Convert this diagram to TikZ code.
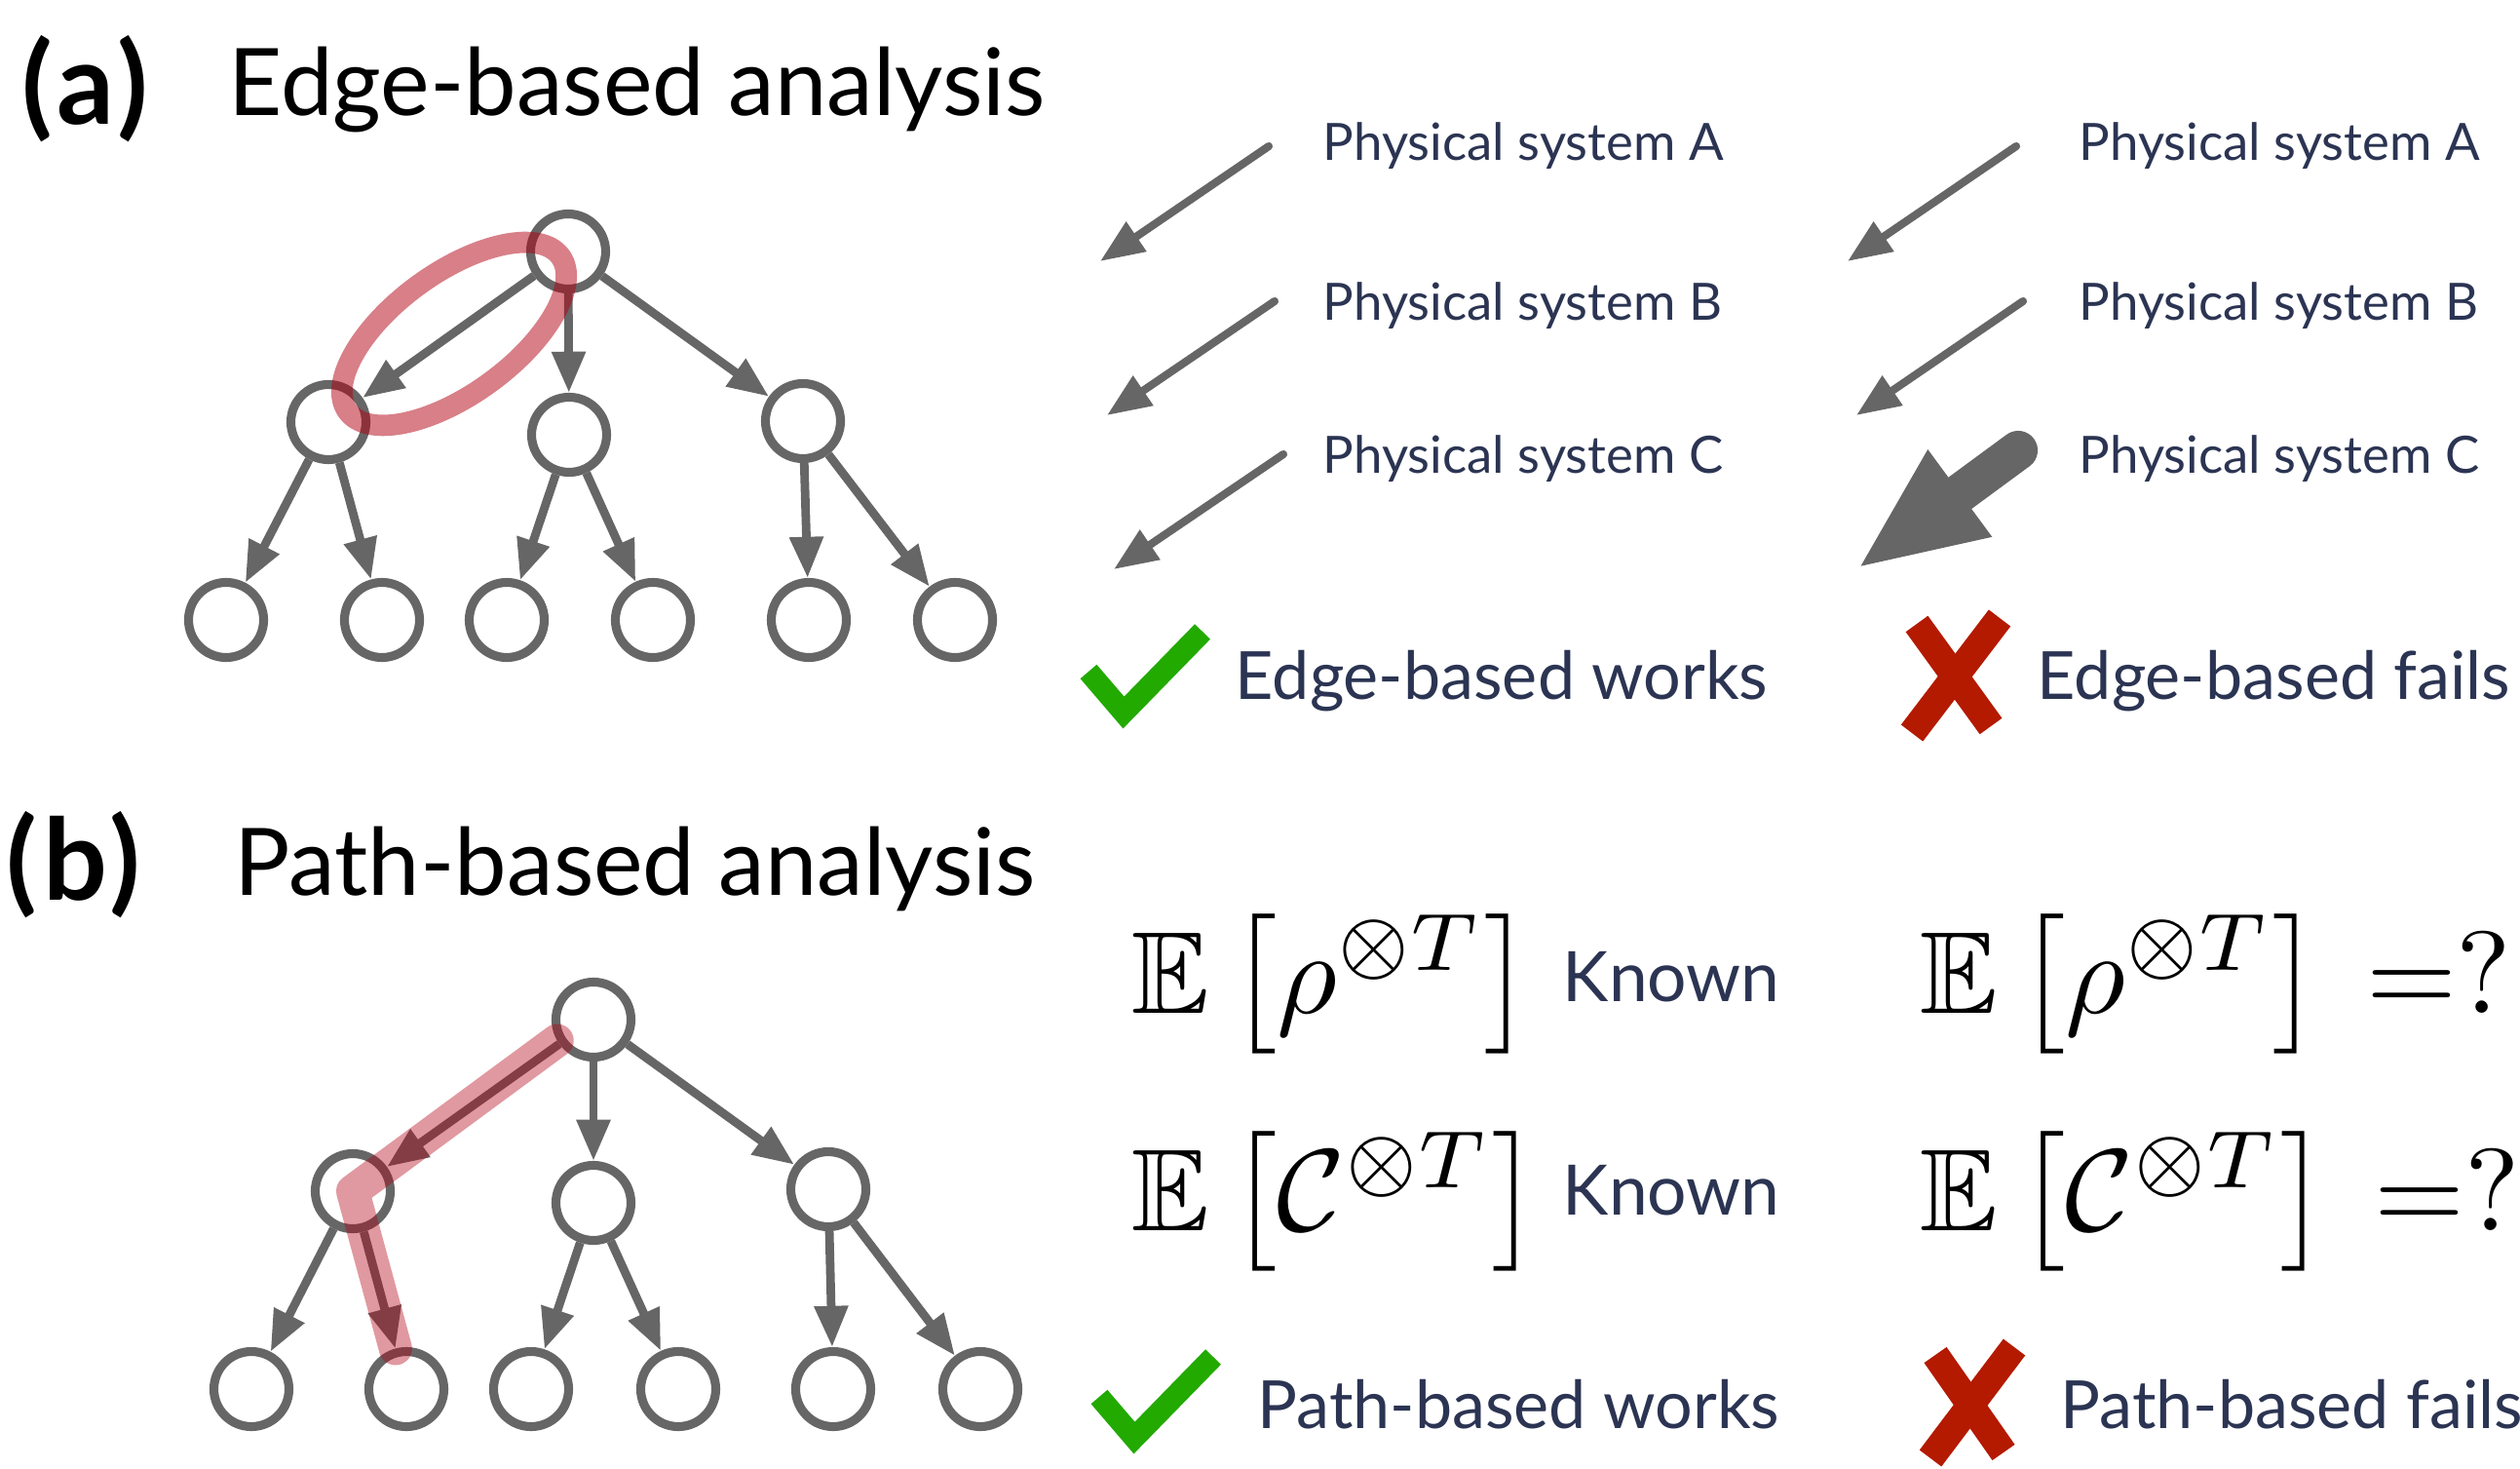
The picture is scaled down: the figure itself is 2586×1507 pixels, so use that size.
\documentclass[tikz,border=0pt]{standalone}
\usepackage{amsmath,amssymb}
\usepackage{fontspec}
\setmainfont{Lato}
\usetikzlibrary{arrows.meta,calc}
\definecolor{treegray}{RGB}{102,102,102}
\definecolor{labelnavy}{RGB}{43,52,82}
\definecolor{hlred}{RGB}{177,0,17}
\definecolor{okgreen}{RGB}{34,170,0}
\definecolor{badred}{RGB}{180,26,0}

\begin{document}
\begin{tikzpicture}[x=0.01cm, y=-0.01cm,
    vert/.style={circle, draw=treegray, line width=2.6pt, minimum size=21.9pt, inner sep=0pt},
    treearr/.style={draw=treegray, line width=2.5pt, -{Triangle[length=12pt, width=9.4pt]}},
    sysarr/.style={draw=treegray, line width=2.3pt, line cap=round, -{Triangle[length=12.8pt, width=10pt]}},
    bigarr/.style={draw=treegray, line width=11.4pt, line cap=round, -{Triangle[length=37.5pt, width=28.5pt]}},
    edgehl/.style={draw=hlred, draw opacity=0.5, line width=6.2pt},
    pathhl/.style={draw=hlred, draw opacity=0.4, line width=9.7pt, line cap=round, line join=round},
    panellbl/.style={anchor=base west, inner sep=0pt, font=\fontsize{33}{40}\selectfont\bfseries\addfontfeatures{LetterSpace=5}},
    titlelbl/.style={anchor=base west, inner sep=0pt, font=\fontsize{27.2}{32}\selectfont},
    syslbl/.style={anchor=base west, inner sep=0pt, text=labelnavy, font=\fontsize{15}{18}\selectfont},
    reslbl/.style={anchor=base west, inner sep=0pt, text=labelnavy, font=\fontsize{19.4}{23}\selectfont},
    knownlbl/.style={anchor=base west, inner sep=0pt, text=labelnavy, font=\fontsize{20.3}{25}\selectfont},
    mathlbl/.style={anchor=base west, inner sep=0pt, scale=3.4, transform shape},
    okmark/.style={draw=okgreen, line width=6.3pt},
    badmark/.style={draw=badred, line width=8pt}]
\useasboundingbox (0,0) rectangle (2586,1507);

% titles
\node[panellbl] (pa) at (22,128) {(a)};
\node[titlelbl] (ta) at (234,119) {Edge-based analysis};
\node[panellbl] (pb) at (6,923) {(b)};
\node[titlelbl] (tb) at (240,918) {Path-based analysis};

% tree (a)
\node[vert] (ar) at (583,258) {};
\node[vert] (am1) at (337,433) {};
\node[vert] (am2) at (584,446) {};
\node[vert] (am3) at (824,432) {};
\foreach \x [count=\i] in {232,392,520,670,830,980}
    \node[vert] (ab\i) at (\x,636) {};
\foreach \a/\b in {ar/am1, ar/am2, ar/am3, am1/ab1, am1/ab2, am2/ab3, am2/ab4, am3/ab5, am3/ab6}
    \draw[treearr] (\a) -- (\b);
\coordinate (ec) at ($(ar)!0.5!(am1)+(6,-3)$);
\draw[edgehl, rotate around={36:(ec)}] (ec) ellipse [x radius=135, y radius=62];

% tree (b)
\node[vert] (br) at (609,1046) {};
\node[vert] (bm1) at (362,1222) {};
\node[vert] (bm2) at (609,1234) {};
\node[vert] (bm3) at (850,1220) {};
\foreach \x [count=\i] in {258,417,545,696,855,1006}
    \node[vert] (bb\i) at (\x,1425) {};
\foreach \a/\b in {br/bm1, br/bm2, br/bm3, bm1/bb1, bm1/bb2, bm2/bb3, bm2/bb4, bm3/bb5, bm3/bb6}
    \draw[treearr] (\a) -- (\b);
\draw[pathhl] (br.210) -- (bm1.center) -- (bb2.105);

% physical systems
\foreach \y/\s [count=\i] in {165/A, 329/B, 486/C} {
    \node[syslbl] (sl\i) at (1357,\y) {Physical system \s};
    \node[syslbl] (sr\i) at (2133,\y) {Physical system \s};
}
\foreach \n/\sx/\sy/\tx/\ty in {l1/1302/150/1129/268, l2/1308/309/1136/426, l3/1317/466/1143/584,
        r1/2069/150/1896/268, r2/2076/309/1905/426, r3/2071/462/1905/584} {
    \coordinate (\n s) at (\sx,\sy);
    \coordinate (\n t) at (\tx,\ty);
}
\foreach \n in {l1,l2,l3,r1,r2}
    \draw[sysarr] (\n s) -- (\n t);
\draw[bigarr] (r3s) -- (r3t);

% expectations
\node[mathlbl] (er1) at (1159,1039) {$\mathbb{E}\left[\rho^{\otimes T}\right]$};
\node[knownlbl] (kn1) at (1603,1027) {Known};
\node[mathlbl] (er2) at (1968,1039) {$\mathbb{E}\left[\rho^{\otimes T}\right]\:{=}?$};
\node[mathlbl] (ec1) at (1159,1262) {$\mathbb{E}\left[\mathcal{C}^{\otimes T}\right]$};
\node[knownlbl] (kn2) at (1603,1246) {Known};
\node[mathlbl] (ec2) at (1968,1262) {$\mathbb{E}\left[\mathcal{C}^{\otimes T}\right]\:{=}?$};

% verdicts
\draw[okmark] (1117,689) -- (1153,731) -- (1234,648);
\draw[badmark] (1967,640) -- (2043,745);
\draw[badmark] (2052,634) -- (1962,752);
\node[reslbl] (ewk) at (1267,718) {Edge-based works};
\node[reslbl] (efl) at (2090,718) {Edge-based fails};
\draw[okmark] (1128,1433) -- (1164,1475) -- (1245,1392);
\draw[badmark] (1986,1390) -- (2056,1490);
\draw[badmark] (2067,1382) -- (1981,1496);
\node[reslbl] (pwk) at (1290,1465) {Path-based works};
\node[reslbl] (pfl) at (2114,1465) {Path-based fails};
\end{tikzpicture}
\end{document}
